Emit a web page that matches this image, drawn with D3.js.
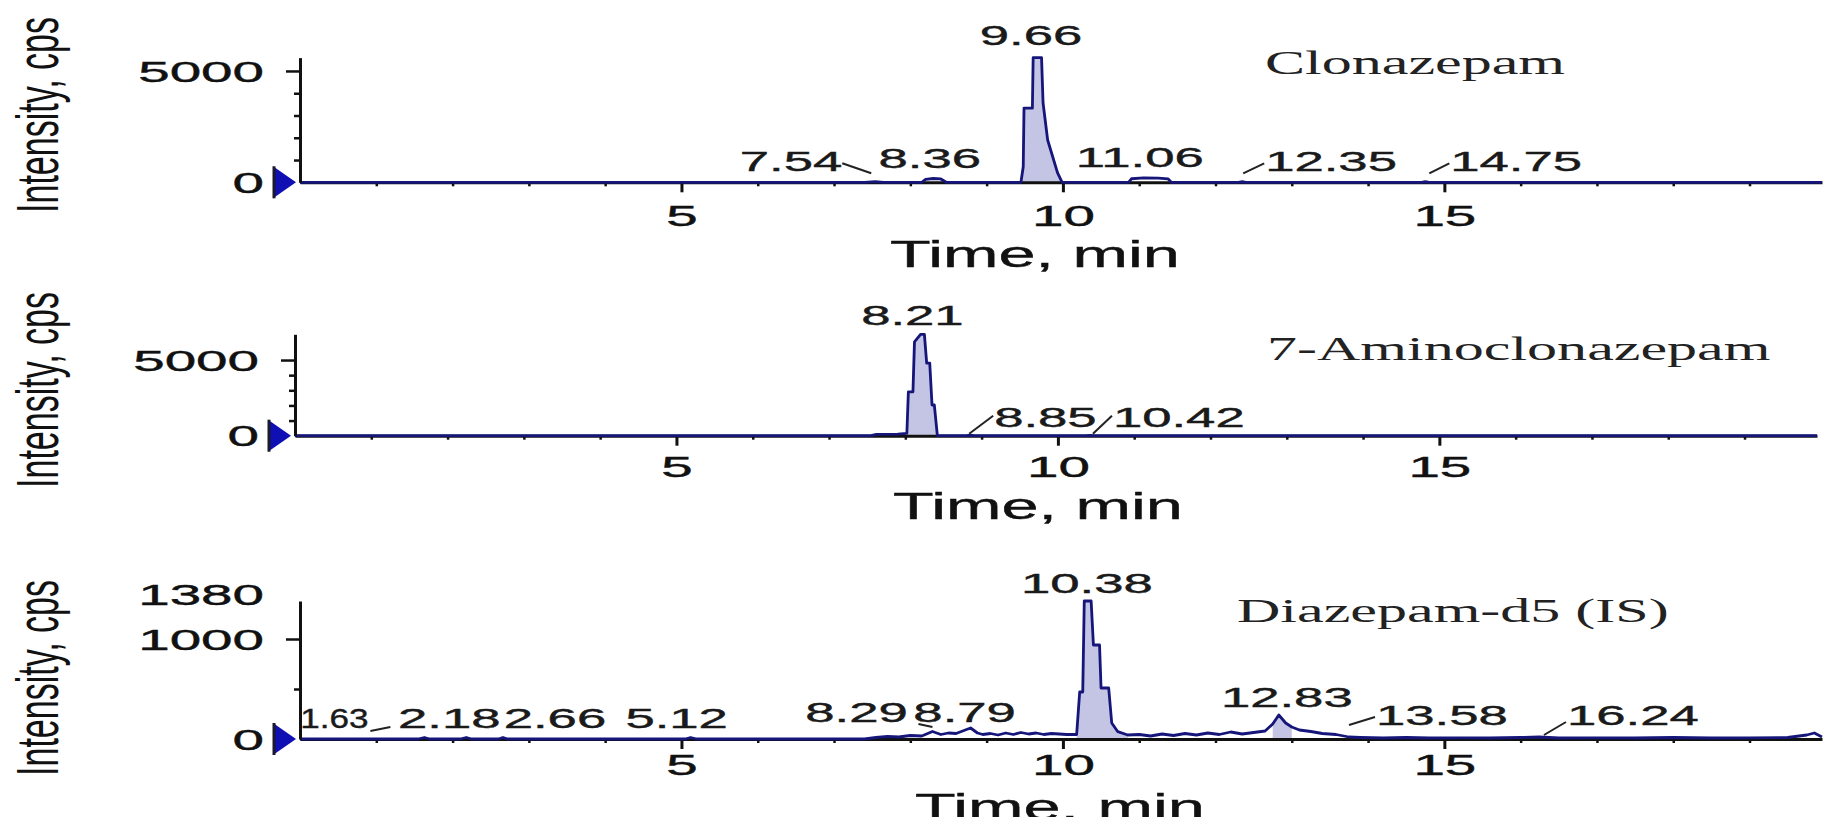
<!DOCTYPE html>
<html>
<head>
<meta charset="utf-8">
<script src="https://cdn.jsdelivr.net/npm/d3@7"></script>
<style>
	body { margin: 0; background: #fff; }
	svg { display: block; }
</style>
</head>
<body>
<div id="chart"></div>
<script>
	const compounds = ['Clonazepam', '7-Aminoclonazepam', 'Diazepam-d5 (IS)'];
	const yTitle = 'Intensity, cps';
	const xTitle = 'Time, min';

	const timeMax = 19.95;
	const timeTicks = [5, 10, 15];
	const timeMinor = [1, 2, 3, 4, 6, 7, 8, 9, 11, 12, 13, 14, 16, 17, 18, 19];

	const yMaxes = [5600, 6700, 1380];
	const yTickVals = [[0, 5000], [0, 5000], [0, 1000, 1380]];
	const yMinorVals = [[1000, 2000, 3000, 4000], [1000, 2000, 3000, 4000], [500]];

	// [time min, intensity cps]
	const clonazepam = [
		[0, 0], [7.40, 0], [7.54, 30], [7.65, 0], [8.15, 0], [8.20, 130], [8.30, 170], [8.40, 150], [8.47, 0],
		[9.45, 0], [9.48, 700], [9.49, 3330], [9.60, 3330], [9.61, 5600], [9.72, 5600], [9.74, 3560],
		[9.80, 1900], [9.93, 420], [9.99, 0], [10.86, 0], [10.90, 160], [11.06, 200], [11.25, 190],
		[11.38, 150], [11.42, 0], [12.30, 0], [12.35, 25], [12.40, 0], [14.70, 0], [14.75, 25], [14.80, 0],
		[19.95, 0]
	];
	const aminoclonazepam = [
		[0, 0], [7.55, 0], [7.62, 90], [7.90, 110], [8.02, 150], [8.04, 2900], [8.10, 2900], [8.12, 6200],
		[8.20, 6700], [8.25, 6700], [8.28, 4800], [8.32, 4800], [8.35, 2030], [8.38, 2030], [8.42, 0],
		[8.80, 0], [8.85, 30], [8.90, 0], [10.37, 0], [10.42, 25], [10.47, 0], [19.95, 0]
	];
	const diazepamD5 = [
		[0, 0], [1.55, 0], [1.63, 15], [1.70, 0], [2.10, 0], [2.18, 15], [2.25, 0], [2.60, 0], [2.66, 15],
		[2.72, 0], [5.05, 0], [5.12, 15], [5.20, 0], [7.40, 0], [7.55, 15], [7.70, 25], [7.85, 20],
		[8.00, 35], [8.15, 30], [8.29, 75], [8.40, 45], [8.50, 60], [8.60, 55], [8.72, 90], [8.79, 110],
		[8.88, 60], [8.95, 45], [9.05, 55], [9.15, 40], [9.25, 60], [9.35, 45], [9.45, 65], [9.55, 50],
		[9.65, 60], [9.75, 45], [9.85, 55], [9.95, 50], [10.05, 45], [10.18, 45], [10.22, 470],
		[10.26, 470], [10.28, 1380], [10.37, 1380], [10.40, 940], [10.48, 940], [10.50, 510], [10.60, 510],
		[10.64, 160], [10.72, 73], [10.85, 40], [11.00, 45], [11.15, 30], [11.30, 50], [11.45, 35],
		[11.60, 55], [11.75, 40], [11.90, 60], [12.05, 45], [12.20, 70], [12.35, 50], [12.50, 65],
		[12.65, 80], [12.75, 150], [12.83, 240], [12.92, 160], [13.00, 120], [13.10, 90], [13.25, 75],
		[13.40, 55], [13.58, 45], [13.75, 20], [13.90, 15], [14.20, 10], [14.50, 15], [14.80, 10],
		[15.20, 12], [15.60, 10], [16.00, 15], [16.24, 20], [16.50, 10], [17.00, 12], [17.50, 10],
		[18.00, 15], [18.50, 10], [19.00, 12], [19.50, 15], [19.75, 40], [19.85, 60], [19.95, 20]
	];
	const traces = [clonazepam, aminoclonazepam, diazepamD5];

	// integrated peak windows (min)
	const peakWindows = [[[9.45, 9.99]], [[8.02, 8.42]], [[10.18, 10.85], [12.72, 13.05]]];

	// labelled retention times
	const peaksClonazepam = [9.66, 7.54, 8.36, 11.06, 12.35, 14.75];
	const peaksAmino = [8.21, 8.85, 10.42];
	const peaksDiazepam = [10.38, 1.63, 2.18, 2.66, 5.12, 8.29, 8.79, 12.83, 13.58, 16.24];
	const peakTimes = [peaksClonazepam, peaksAmino, peaksDiazepam];

	// ---- layout ----
	const W = 1837, H = 817;
	const SX_NUM = 1.95, SX_TXT = 1.8;
	const numFont = '"Liberation Sans", Arial, sans-serif';
	const serifFont = '"Liberation Serif", "Times New Roman", serif';
	const lineColor = '#15157a';
	const fillColor = '#c4c4e4';
	const inkColor = '#111111';

	const panels = [
		{ x0: 300, x1: 1822, base: 182.3, top: 57.6, tickLabY: 44, titleX: 1035, titleY: 85, nameX: 1265, nameY: 74, yLabY: 115 },
		{ x0: 295, x1: 1817, base: 435.7, top: 334.3, tickLabY: 41, titleX: 1038, titleY: 83, nameX: 1267, nameY: 360, yLabY: 390 },
		{ x0: 300, x1: 1822, base: 739, top: 601, tickLabY: 36, titleX: 1060, titleY: 81, nameX: 1237, nameY: 622, yLabY: 678 }
	];

	// label placement per peak: anchor, dx from peak, dy above baseline, optional leader [x1,y1,x2,y2], optional squeeze
	const labelPos = [
		[
			{ a: 'middle', dx: -6, dy: 137 },
			{ a: 'end', dx: -33, dy: 11, lead: [-33, -19, -4, -9] },
			{ a: 'middle', dx: -8, dy: 14 },
			{ a: 'middle', dx: -4, dy: 15 },
			{ a: 'start', dx: 23, dy: 11, lead: [1, -9, 22, -19] },
			{ a: 'start', dx: 25, dy: 11, lead: [4, -9, 24, -19] }
		],
		[
			{ a: 'middle', dx: -9, dy: 111 },
			{ a: 'start', dx: 24, dy: 9, lead: [-1, -2, 23, -20] },
			{ a: 'start', dx: 23, dy: 9, lead: [3, -2, 22, -20] }
		],
		[
			{ a: 'middle', dx: -5, dy: 146 },
			{ a: 'start', dx: -124, dy: 11, sx: 1.3, lead: [-54, -8, -34, -12] },
			{ a: 'middle', dx: -17, dy: 11 },
			{ a: 'middle', dx: 52, dy: 11 },
			{ a: 'middle', dx: -14, dy: 11 },
			{ a: 'middle', dx: -76, dy: 17, lead: [-14, -15, 0, -12] },
			{ a: 'middle', dx: -6, dy: 17 },
			{ a: 'middle', dx: 8, dy: 32 },
			{ a: 'start', dx: 40, dy: 14, lead: [13, -14, 39, -22] },
			{ a: 'start', dx: 28, dy: 14, lead: [5, -4, 27, -17] }
		]
	];

	const svg = d3.select('#chart')
		.append('svg')
		.attr('width', W)
		.attr('height', H)
		.style('background', '#fff');

	const stretch = (x, y, sx) => `translate(${x},${y}) scale(${sx},1)`;

	panels.forEach((p, i) => {
		const x = d3.scaleLinear().domain([0, timeMax]).range([p.x0, p.x1]);
		const y = d3.scaleLinear().domain([0, yMaxes[i]]).range([p.base, p.top]);
		const g = svg.append('g').attr('class', 'panel');

		svg.append('clipPath').attr('id', 'clip' + i)
			.append('rect')
			.attr('x', p.x0 - 2).attr('y', 0)
			.attr('width', W - p.x0).attr('height', H);

		// peak fill
		const area = d3.area()
			.x(d => x(d[0]))
			.y0(y(0))
			.y1(d => y(d[1]));
		peakWindows[i].forEach(w => {
			g.append('path')
				.datum(traces[i].filter(d => d[0] >= w[0] && d[0] <= w[1]))
				.attr('d', area)
				.attr('fill', fillColor);
		});

		// x axis
		const xMinor = g.append('g')
			.attr('transform', `translate(0,${p.base})`)
			.call(d3.axisBottom(x).tickValues(timeMinor).tickSize(4).tickSizeOuter(0).tickFormat(''));
		xMinor.select('.domain').remove();
		xMinor.selectAll('line').attr('stroke', inkColor).attr('stroke-width', 2.5);

		const xMajor = g.append('g')
			.attr('transform', `translate(0,${p.base})`)
			.call(d3.axisBottom(x).tickValues(timeTicks).tickSize(10).tickSizeOuter(0));
		xMajor.select('.domain').attr('stroke', inkColor).attr('stroke-width', 3);
		xMajor.selectAll('line').attr('stroke', inkColor).attr('stroke-width', 3);
		xMajor.selectAll('text')
			.attr('y', 0).attr('dy', 0)
			.attr('transform', stretch(0, p.tickLabY, SX_NUM))
			.attr('fill', inkColor)
			.attr('stroke', inkColor)
			.attr('stroke-width', 0.4)
			.style('font-family', numFont)
			.style('font-size', '29px');

		// trace
		const line = d3.line()
			.x(d => x(d[0]))
			.y(d => y(d[1]));
		g.append('path')
			.datum(traces[i])
			.attr('d', line)
			.attr('fill', 'none')
			.attr('stroke', lineColor)
			.attr('stroke-width', 2.8)
			.attr('stroke-linejoin', 'round');

		// y axis
		const yMinor = g.append('g')
			.attr('transform', `translate(${p.x0},0)`)
			.call(d3.axisLeft(y).tickValues(yMinorVals[i]).tickSize(6).tickSizeOuter(0).tickFormat(''));
		yMinor.select('.domain').remove();
		yMinor.selectAll('line').attr('stroke', inkColor).attr('stroke-width', 2.5);

		const yAxis = g.append('g')
			.attr('transform', `translate(${p.x0},0)`)
			.call(d3.axisLeft(y).tickValues(yTickVals[i]).tickSize(14).tickSizeOuter(0).tickFormat(d3.format('d')));
		yAxis.select('.domain').attr('stroke', inkColor).attr('stroke-width', 3);
		yAxis.selectAll('.tick line')
			.attr('stroke', inkColor)
			.attr('stroke-width', 2.5)
			.style('display', d => (d === 0 || d === yMaxes[i]) ? 'none' : null);
		yAxis.selectAll('text')
			.attr('x', 0).attr('dy', '0.35em')
			.attr('transform', d => stretch(-36, d === yMaxes[i] ? -7 : 0, SX_NUM))
			.attr('fill', inkColor)
			.attr('stroke', inkColor)
			.attr('stroke-width', 0.4)
			.style('font-family', numFont)
			.style('font-size', '29px');

		// zero marker
		g.append('path')
			.attr('d', `M${p.x0 - 27},${p.base - 16} L${p.x0 - 4},${p.base} L${p.x0 - 27},${p.base + 16} Z`)
			.attr('fill', '#0f0fb4');
		g.append('line')
			.attr('x1', p.x0 - 26).attr('x2', p.x0 - 26)
			.attr('y1', p.base - 16).attr('y2', p.base + 16)
			.attr('stroke', '#1a1a2a')
			.attr('stroke-width', 3);

		// peak labels
		const lg = g.append('g').attr('clip-path', `url(#clip${i})`);
		peakTimes[i].forEach((t, k) => {
			const pos = labelPos[i][k];
			const px = x(t);
			lg.append('text')
				.attr('transform', stretch(px + pos.dx, p.base - pos.dy, pos.sx || SX_NUM))
				.attr('text-anchor', pos.a)
				.attr('fill', '#1a1a1a')
				.attr('stroke', '#1a1a1a')
				.attr('stroke-width', 0.4)
				.style('font-family', numFont)
				.style('font-size', '27px')
				.text(t.toFixed(2));
			if (pos.lead) {
				lg.append('line')
					.attr('x1', px + pos.lead[0]).attr('y1', p.base + pos.lead[1])
					.attr('x2', px + pos.lead[2]).attr('y2', p.base + pos.lead[3])
					.attr('stroke', '#222')
					.attr('stroke-width', 2);
			}
		});

		// titles
		g.append('text')
			.attr('transform', stretch(p.titleX, p.base + p.titleY, SX_TXT))
			.attr('text-anchor', 'middle')
			.attr('fill', inkColor)
			.attr('stroke', inkColor)
			.attr('stroke-width', 0.4)
			.style('font-family', numFont)
			.style('font-size', '37px')
			.text(xTitle);

		g.append('text')
			.attr('transform', `translate(58,${p.yLabY}) scale(1.75,1) rotate(-90)`)
			.attr('text-anchor', 'middle')
			.attr('fill', inkColor)
			.style('font-family', numFont)
			.style('font-size', '34px')
			.text(yTitle);

		g.append('text')
			.attr('transform', stretch(p.nameX, p.nameY, 1.82))
			.attr('fill', '#222')
			.style('font-family', serifFont)
			.style('font-size', '33px')
			.text(compounds[i]);
	});
</script>
</body>
</html>
